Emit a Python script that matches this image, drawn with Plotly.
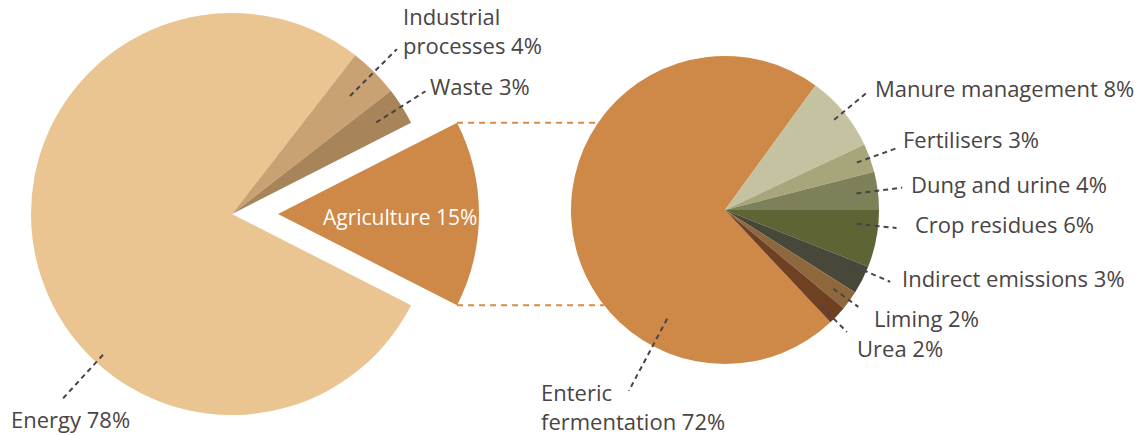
import math
import plotly.graph_objects as go

W, H = 1142, 435

# Share of greenhouse-gas emissions by sector (%)
sector_names = ["Energy", "Industrial processes", "Waste", "Agriculture"]
sector_share = [78, 4, 3, 15]
sector_colors = ["#EAC591", "#CAA172", "#A7845A", "#CE8848"]

# Breakdown of agricultural emissions (%)
agri_names = ["Enteric fermentation", "Manure management", "Fertilisers",
              "Dung and urine", "Crop residues", "Indirect emissions",
              "Liming", "Urea"]
agri_share = [72, 8, 3, 4, 6, 3, 2, 2]
agri_colors = ["#CE8848", "#C4C2A0", "#A7A67B", "#7E8059", "#5E6434",
               "#47483A", "#8E673D", "#6F4022"]

# Pie geometry in pixels
LEFT_C, LEFT_R = (232, 214), 201
PULL_PX = 46
RIGHT_C, RIGHT_R = (725, 210), 154

FONT = "Open Sans"
TEXT = "#4A4444"
LEADER = "#4A4444"
LINK = "#D88B46"
TRANSPARENT = "rgba(0,0,0,0)"
TEXT_DX, TEXT_DY = -3, -2


def px(x, y):
    return x / W, 1 - y / H


def domain(cx, cy, r):
    return dict(x=[(cx - r) / W, (cx + r) / W],
                y=[1 - (cy + r) / H, 1 - (cy - r) / H])


def slice_angles(values, rotation):
    total = sum(values)
    acc, out = 0, []
    for v in values:
        a0 = rotation + 360 * acc / total
        acc += v
        out.append((a0, rotation + 360 * acc / total))
    return out


def polar(c, r, ang):
    t = math.radians(ang)
    return c[0] + r * math.sin(t), c[1] - r * math.cos(t)


# Agriculture (last slice) centred on 3 o'clock; crop residues starts at 3 o'clock
left_rot = 90 + 360 * sector_share[-1] / sum(sector_share) / 2
crop_i = agri_names.index("Crop residues")
right_rot = (90 - 360 * sum(agri_share[:crop_i]) / sum(agri_share)) % 360

left_ang = slice_angles(sector_share, left_rot)
right_ang = slice_angles(agri_share, right_rot)

agri_i = sector_names.index("Agriculture")
agri_mid = sum(left_ang[agri_i]) / 2
PULL_C = polar(LEFT_C, PULL_PX, agri_mid)

fig = go.Figure()
common = dict(sort=False, direction="clockwise", textinfo="none",
              hoverinfo="label+percent", showlegend=False)

fig.add_trace(go.Pie(
    labels=sector_names, values=sector_share, rotation=left_rot,
    marker=dict(colors=[TRANSPARENT if n == "Agriculture" else c
                        for n, c in zip(sector_names, sector_colors)],
                line=dict(width=0)),
    domain=domain(*LEFT_C, LEFT_R), **common))

fig.add_trace(go.Pie(
    labels=sector_names, values=sector_share, rotation=left_rot,
    marker=dict(colors=[c if n == "Agriculture" else TRANSPARENT
                        for n, c in zip(sector_names, sector_colors)],
                line=dict(width=0)),
    domain=domain(*PULL_C, LEFT_R), **common))

fig.add_trace(go.Pie(
    labels=agri_names, values=agri_share, rotation=right_rot,
    marker=dict(colors=agri_colors, line=dict(width=0)),
    domain=domain(*RIGHT_C, RIGHT_R), **common))

# Label placement: angle override (clockwise from 12 o'clock), leader radii,
# offset of the text block centre from the outer end of the leader,
# number of words kept on the first line
left_place = {
    "Energy": dict(ang=222.5, rin=0.95, rout=1.26, dx=-49, dy=20.5),
    "Industrial processes": dict(rin=0.83, rout=1.16, dx=7, dy=-17, wrap=1),
    "Waste": dict(rin=0.85, rout=1.14, dx=6, dy=-3),
}
right_place = {
    "Enteric fermentation": dict(ang=208, rin=0.80, rout=1.33, dx=-87, dy=18, wrap=1),
    "Manure management": dict(rin=0.92, rout=1.2, dx=9, dy=-2),
    "Fertilisers": dict(rin=0.91, rout=1.2, dx=5, dy=-6),
    "Dung and urine": dict(rin=0.86, rout=1.16, dx=10, dy=-2),
    "Crop residues": dict(ang=96, rin=0.86, rout=1.12, dx=19, dy=-2.5),
    "Indirect emissions": dict(ang=113.5, rin=0.86, rout=1.17, dx=13, dy=-2),
    "Liming": dict(rin=0.87, rout=1.07, dx=17, dy=13),
    "Urea": dict(ang=135, rin=0.88, rout=1.12, dx=11, dy=18),
}

shapes, annotations = [], []


def add_labels(names, shares, angles, centre, radius, place):
    for name, share, (a0, a1) in zip(names, shares, angles):
        if name not in place:
            continue
        p = place[name]
        ang = p.get("ang", (a0 + a1) / 2)
        x0, y0 = polar(centre, radius * p["rin"], ang)
        x1, y1 = polar(centre, radius * p["rout"], ang)
        ax0, ay0 = px(x0, y0)
        ax1, ay1 = px(x1, y1)
        shapes.append(dict(type="line", xref="paper", yref="paper",
                           x0=ax0, y0=ay0, x1=ax1, y1=ay1,
                           line=dict(color=LEADER, width=2, dash="5px,4px")))
        words = f"{name} {share}%".split(" ")
        if "wrap" in p:
            text = " ".join(words[:p["wrap"]]) + "<br>" + " ".join(words[p["wrap"]:])
        else:
            text = " ".join(words)
        tx, ty = px(x1 + p["dx"] + TEXT_DX, y1 + p["dy"] + TEXT_DY)
        annotations.append(dict(
            x=tx, y=ty, xref="paper", yref="paper", text=text,
            showarrow=False, xanchor="left", yanchor="middle", align="left",
            font=dict(family=FONT, size=22, color=TEXT)))


add_labels(sector_names, sector_share, left_ang, LEFT_C, LEFT_R, left_place)
add_labels(agri_names, agri_share, right_ang, RIGHT_C, RIGHT_R, right_place)

# Label inside the pulled-out Agriculture wedge
lx, ly = polar(PULL_C, LEFT_R * 0.6, agri_mid)
ax, ay = px(lx + 1, ly + 3)
annotations.append(dict(
    x=ax, y=ay, xref="paper", yref="paper",
    text=f"Agriculture {sector_share[agri_i]}%", showarrow=False,
    xanchor="center", yanchor="middle",
    font=dict(family=FONT, size=21, color="white")))

# Dashed links from the wedge corners to the breakdown pie
for corner in left_ang[agri_i]:
    cx, cy = polar(PULL_C, LEFT_R, corner)
    dy = cy - RIGHT_C[1]
    ex = RIGHT_C[0] - math.sqrt(max(RIGHT_R ** 2 - dy ** 2, 0))
    x0, y0 = px(cx, cy)
    x1, y1 = px(ex, cy)
    shapes.append(dict(type="line", xref="paper", yref="paper",
                       x0=x0, y0=y0, x1=x1, y1=y1,
                       line=dict(color=LINK, width=2, dash="6px,5px")))

fig.update_layout(
    width=W, height=H, autosize=False,
    margin=dict(l=0, r=0, t=0, b=0),
    paper_bgcolor="white", plot_bgcolor="white",
    shapes=shapes, annotations=annotations,
)

fig.write_html("out.html")
